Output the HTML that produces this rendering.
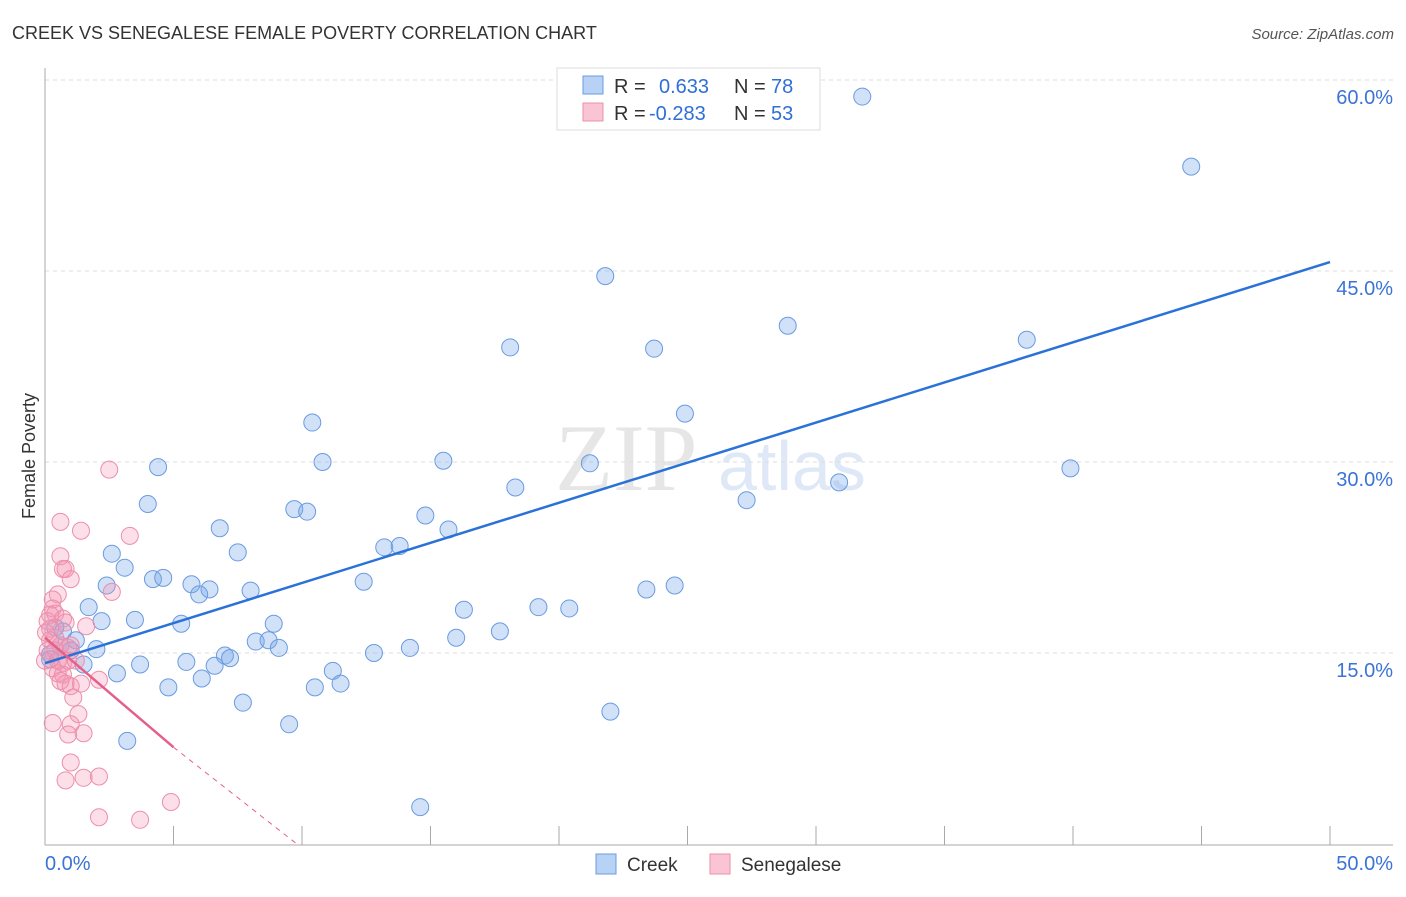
<!DOCTYPE html>
<html><head><meta charset="utf-8"><style>
body{margin:0;background:#fff;font-family:"Liberation Sans",sans-serif;}
</style></head><body>
<svg id="c" width="1406" height="892" xmlns="http://www.w3.org/2000/svg">
<text x="12" y="39" font-size="18" fill="#333">CREEK VS SENEGALESE FEMALE POVERTY CORRELATION CHART</text>
<text x="1394" y="39" font-size="15" fill="#555" font-style="italic" text-anchor="end">Source: ZipAtlas.com</text>
<text x="35" y="456" font-size="18" fill="#333" text-anchor="middle" transform="rotate(-90 35 456)">Female Poverty</text>
<text x="555" y="490" font-size="95" fill="#e6e6e6" font-family="Liberation Serif,serif">ZIP</text>
<text x="718" y="490" font-size="70" fill="#dfe8f6">atlas</text>
<g id="grid"></g><g id="axes"></g><g id="pts"></g><g id="lines"></g>
<g>
<rect x="557" y="68" width="263" height="62" fill="#fff" stroke="#ddd"/>
<rect x="583" y="76" width="20" height="18" fill="#b8d2f5" stroke="#6a9be0"/>
<rect x="583" y="103" width="20" height="18" fill="#f9c4d3" stroke="#ec8fab"/>
<text x="614" y="93" font-size="20" fill="#333">R = <tspan fill="#2f6fd6" x="659">0.633</tspan><tspan x="734">N =</tspan><tspan fill="#2f6fd6" x="771">78</tspan></text>
<text x="614" y="120" font-size="20" fill="#333">R = <tspan fill="#2f6fd6" x="649">-0.283</tspan><tspan x="734">N =</tspan><tspan fill="#2f6fd6" x="771">53</tspan></text>
</g>
<g>
<rect x="596" y="854" width="20" height="20" fill="#b8d2f5" stroke="#6a9be0"/>
<text x="627" y="871" font-size="19" fill="#333">Creek</text>
<rect x="710" y="854" width="20" height="20" fill="#f9c4d3" stroke="#ec8fab"/>
<text x="741" y="871" font-size="19" fill="#333">Senegalese</text>
</g>
</svg>
<script>
const xTickLabels=["0.0%","50.0%"];
const yTicks=[15,30,45,60];
const creekX=[31.8,44.6,21.8,28.9,38.2,18.1,23.7,24.9,10.4,10.8,15.5,21.2,39.9,4.4,30.9,18.3,27.3,4.0,9.7,10.2,14.8,15.7,6.8,13.2,13.8,7.5,2.6,3.1,12.4,4.2,4.6,5.7,6.4,6.0,8.0,2.4,23.4,24.5,19.2,20.4,16.3,1.7,2.2,3.5,5.3,8.9,17.7,16.0,8.2,8.7,9.1,6.6,7.0,7.2,12.8,14.2,2.0,1.2,0.7,0.4,0.6,0.2,5.5,3.7,1.5,2.8,11.2,6.1,4.8,10.5,11.5,7.7,9.5,22.0,3.2,14.6,0.2,1.0];
const creekY=[58.7,53.2,44.6,40.7,39.6,39.0,38.9,33.8,33.1,30.0,30.1,29.9,29.5,29.6,28.4,28.0,27.0,26.7,26.3,26.1,25.8,24.7,24.8,23.3,23.4,22.9,22.8,21.7,20.6,20.8,20.9,20.4,20.0,19.6,19.9,20.3,19.99,20.3,18.6,18.5,18.4,18.6,17.5,17.6,17.3,17.3,16.7,16.2,15.9,16.0,15.4,14.0,14.8,14.6,15.0,15.4,15.3,16.0,16.7,17.0,15.6,14.9,14.3,14.1,14.1,13.4,13.6,13.0,12.3,12.3,12.6,11.1,9.4,10.4,8.1,2.9,14.5,15.2];
const senX=[2.5,0.6,1.4,3.3,0.6,0.7,0.8,1.0,2.6,0.5,0.3,0.3,0.4,0.7,0.8,0.1,0.2,1.6,0.4,0.6,0.9,0.9,0.7,0.3,0.5,0.7,0.6,0.8,1.0,1.4,2.1,1.1,1.3,0.3,1.0,0.9,1.5,1.0,0.8,1.5,2.1,4.9,2.1,3.7,0.2,0.04,0.1,0.2,0.4,1.2,0.0,0.5,1.0];
const senY=[29.4,25.3,24.6,24.2,22.6,21.6,21.6,20.8,19.8,19.6,19.2,18.5,18.1,17.7,17.4,17.5,16.9,17.1,16.2,15.6,15.4,14.4,14.2,13.8,13.4,13.3,12.8,12.6,12.4,12.6,12.9,11.5,10.2,9.5,9.4,8.6,8.7,6.4,5.0,5.2,5.3,3.3,2.1,1.9,16.0,16.6,15.2,18.0,15.2,14.4,14.4,14.4,15.6];
const creekFit=[[0,14.2],[50,45.7]];
const senFit=[[0,16.2],[5,7.6]];
const senDash=[[5,7.6],[9.8,0]];
const NS="http://www.w3.org/2000/svg";
const X=v=>45+v*25.7, Y=v=>844-v*12.733;
function mk(t,a,p){const e=document.createElementNS(NS,t);for(const k in a)e.setAttribute(k,a[k]);document.getElementById(p).appendChild(e);return e;}
yTicks.forEach(t=>{
 const g=mk('line',{x1:45,x2:1393,y1:Y(t),y2:Y(t),stroke:'#ddd','stroke-dasharray':'4,4'},'grid');
 
 
 const l=mk('text',{x:1393,y:Y(t)+24,'font-size':20,fill:'#3b73d6','text-anchor':'end'},'grid');
 l.textContent=t.toFixed(1)+'%';
 
 
});
mk('line',{x1:45,x2:45,y1:68,y2:845,stroke:'#aaa'},'axes');
mk('line',{x1:45,x2:1393,y1:845,y2:845,stroke:'#aaa'},'axes');
for(let i=1;i<=10;i++){const t=mk('line',{x1:X(i*5),x2:X(i*5),y1:826,y2:845,stroke:'#aaa'},'axes');
 
 }
[[0,'start',45],[1,'end',1393]].forEach(([i,a,x])=>{const l=mk('text',{x:x,y:870,'font-size':20,fill:'#3b73d6','text-anchor':a},'axes');l.textContent=xTickLabels[i];
 
 });
creekX.forEach((v,i)=>{const c=mk('circle',{cx:X(v),cy:Y(creekY[i]),r:8.5,fill:'rgba(120,170,235,0.35)',stroke:'#6a9be0','stroke-width':1},'pts');
 
 });
senX.forEach((v,i)=>{const c=mk('circle',{cx:X(v),cy:Y(senY[i]),r:8.5,fill:'rgba(245,150,180,0.3)',stroke:'#ec8fab','stroke-width':1},'pts');
 
 });
const l1=mk('line',{x1:X(creekFit[0][0]),y1:Y(creekFit[0][1]),x2:X(creekFit[1][0]),y2:Y(creekFit[1][1]),stroke:'#2a72d8','stroke-width':2.5},'lines');


const l2=mk('line',{x1:X(senFit[0][0]),y1:Y(senFit[0][1]),x2:X(senFit[1][0]),y2:Y(senFit[1][1]),stroke:'#e4608a','stroke-width':2.5},'lines');


const l3=mk('line',{x1:X(senDash[0][0]),y1:Y(senDash[0][1]),x2:X(senDash[1][0]),y2:Y(senDash[1][1]),stroke:'#e4608a','stroke-width':1,'stroke-dasharray':'5,5'},'lines');


</script>
</body></html>
